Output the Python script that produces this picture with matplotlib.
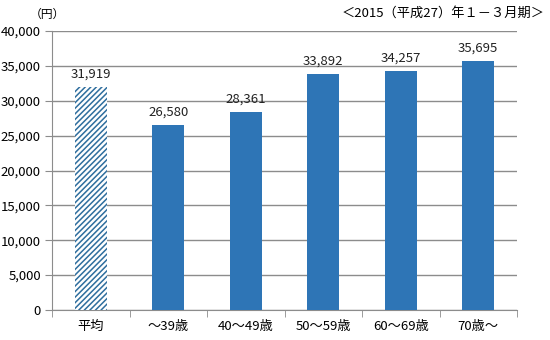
import matplotlib.pyplot as plt
import numpy as np

plt.rcParams['font.family'] = ['Noto Sans CJK JP', 'DejaVu Sans']
plt.rcParams['hatch.linewidth'] = 1.1

categories = ["平均", "～39歳", "40～49歳", "50～59歳", "60～69歳", "70歳～"]
values = [31919, 26580, 28361, 33892, 34257, 35695]
yticks = [0, 5000, 10000, 15000, 20000, 25000, 30000, 35000, 40000]

blue = "#2E75B6"
grid = "#8C8C8C"

fig = plt.figure(figsize=(5.5, 3.4), dpi=100)
ax = fig.add_axes([52 / 550, 1 - 310 / 340, 465 / 550, 279 / 340])

x = np.arange(len(categories))
bars = ax.bar(x, values, width=0.41, color=blue, zorder=3)
# average bar is drawn with diagonal stripes
bars[0].set_facecolor("white")
bars[0].set_edgecolor("#2F6E9E")
bars[0].set_hatch("//////")
bars[0].set_linewidth(0)

for xi, v in zip(x, values):
    ax.text(xi, v + 900, f"{v:,}", ha="center", va="bottom", fontsize=9.5, color="#222222")

ax.set_xlim(-0.5, len(categories) - 0.5)
ax.set_ylim(0, 40000)
ax.set_yticks(yticks)
ax.set_yticklabels([f"{t:,}" for t in yticks], fontsize=9.5)
ax.set_xticks(x)
ax.set_xticklabels(categories, fontsize=9.5)
ax.set_xticks(np.arange(len(categories) + 1) - 0.5, minor=True)
ax.tick_params(axis="x", which="major", length=0, pad=7)
ax.tick_params(axis="x", which="minor", length=5, color=grid, direction="out")
ax.tick_params(axis="y", length=5, color=grid, direction="out", pad=3)

ax.grid(axis="y", color=grid, linewidth=1, zorder=0)
for s in ["top", "right"]:
    ax.spines[s].set_visible(False)
ax.spines["left"].set_color(grid)
ax.spines["bottom"].set_color(grid)

fig.text(30 / 550, 1 - 8 / 340, "（円）", fontsize=8.5, va="top", ha="left")
fig.text(545 / 550, 1 - 7 / 340, "＜2015（平成27）年１－３月期＞", fontsize=9.5, va="top", ha="right")

plt.savefig("out.png", dpi=100)
